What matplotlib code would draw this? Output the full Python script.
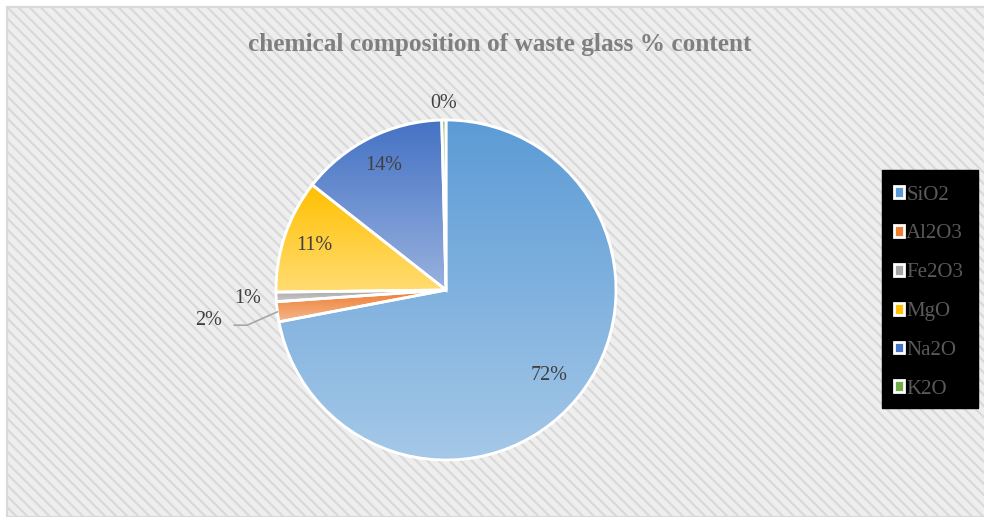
import numpy as np
import matplotlib.pyplot as plt
from matplotlib.colors import to_rgb
from matplotlib.patches import Rectangle, Patch, Wedge

# data
components = ["SiO2", "Al2O3", "Fe2O3", "MgO", "Na2O", "K2O"]
content = [72.0, 1.9, 0.9, 10.8, 14.0, 0.4]
colors = ["#5B9BD5", "#ED7D31", "#A5A5A5", "#FFC000", "#4472C4", "#70AD47"]
title = "chemical composition of waste glass % content"

plt.rcParams["font.family"] = ["Liberation Serif", "DejaVu Serif"]
plt.rcParams["hatch.linewidth"] = 1.6
plt.rcParams["hatch.color"] = "#FBFBFB"

W, H = 984, 517
fig = plt.figure(figsize=(W / 100, H / 100), dpi=100)
fig.patch.set_facecolor("white")

# patterned chart area with light border
bg = Rectangle((7 / W, 0), 1, 1 - 7 / H, transform=fig.transFigure,
               facecolor="#EEEEEE", edgecolor="#D9D9D9", linewidth=1.5,
               hatch="\\\\\\", zorder=-2)
fig.patches.append(bg)
fig.patches.append(Rectangle((7 / W, 0), 1, 1 - 7 / H, transform=fig.transFigure,
                             facecolor="none", edgecolor="#D9D9D9", linewidth=1.5,
                             zorder=-1))

fig.text(500 / W, 1 - 44 / H, title, ha="center", va="center",
         fontsize=18.2, fontweight="bold", color="#7F7F7F")

cx, cy, r = 446, 290, 170
ax = fig.add_axes([(cx - r) / W, (H - cy - r) / H, 2 * r / W, 2 * r / H])
ax.set_zorder(3)
ax.patch.set_visible(False)
ax.set_xlim(-1, 1)
ax.set_ylim(-1, 1)
ax.set_aspect("equal")
ax.axis("off")

wedges, _ = ax.pie(content, colors=colors, startangle=90, counterclock=False,
                   radius=1, wedgeprops=dict(edgecolor="white", linewidth=2))


def lighter(c, f):
    c = np.array(to_rgb(c))
    return c + (1 - c) * f


# vertical gradient inside each slice
for w, c in zip(wedges, colors):
    x0, y0, x1, y1 = w.get_path().get_extents().extents
    t = np.linspace(0, 1, 256)[:, None]
    top = np.array(to_rgb(c))
    bot = lighter(c, 0.45)
    grad = top[None, None, :] * (1 - t[:, :, None]) + bot[None, None, :] * t[:, :, None]
    im = ax.imshow(grad, extent=[x0, x1, y0, y1], origin="upper", aspect="auto",
                   zorder=2, interpolation="bilinear")
    im.set_clip_path(w)
    ax.add_patch(Wedge(w.center, w.r, w.theta1, w.theta2, facecolor="none",
                       edgecolor="white", linewidth=2, zorder=3))
ax.set_xlim(-1, 1)
ax.set_ylim(-1, 1)

# percentage labels
label_r = [0.79, 1.41, 1.165, 0.82, 0.82, 1.10]
for w, v, lr in zip(wedges, content, label_r):
    ang = np.deg2rad((w.theta1 + w.theta2) / 2)
    ax.text(lr * np.cos(ang), lr * np.sin(ang), f"{round(v):.0f}%",
            ha="center", va="center", fontsize=14.5, color="#404040", zorder=5)

# leader line for Al2O3
a2 = np.deg2rad((wedges[1].theta1 + wedges[1].theta2) / 2)
ax.plot([-1.245, -1.17, np.cos(a2) * 1.0], [-0.207, -0.207, np.sin(a2) * 1.0],
        color="#A6A6A6", linewidth=1.2, zorder=4, clip_on=False)

# legend on black box
fig.patches.append(Rectangle((882 / W, 1 - 408 / H), 96 / W, 238 / H,
                             transform=fig.transFigure, facecolor="black",
                             edgecolor="black", zorder=2))
handles = [Patch(facecolor=c, edgecolor="white", linewidth=2) for c in colors]
leg = fig.legend(handles, components, loc="upper left",
                 bbox_to_anchor=(877 / W, 1 - 169 / H), frameon=False,
                 fontsize=15, labelcolor="#595959", handlelength=0.5,
                 handleheight=0.5, handletextpad=0.1, labelspacing=0.95,
                 borderpad=0.3)
leg.set_zorder(5)

fig.savefig("out.png", dpi=100)
